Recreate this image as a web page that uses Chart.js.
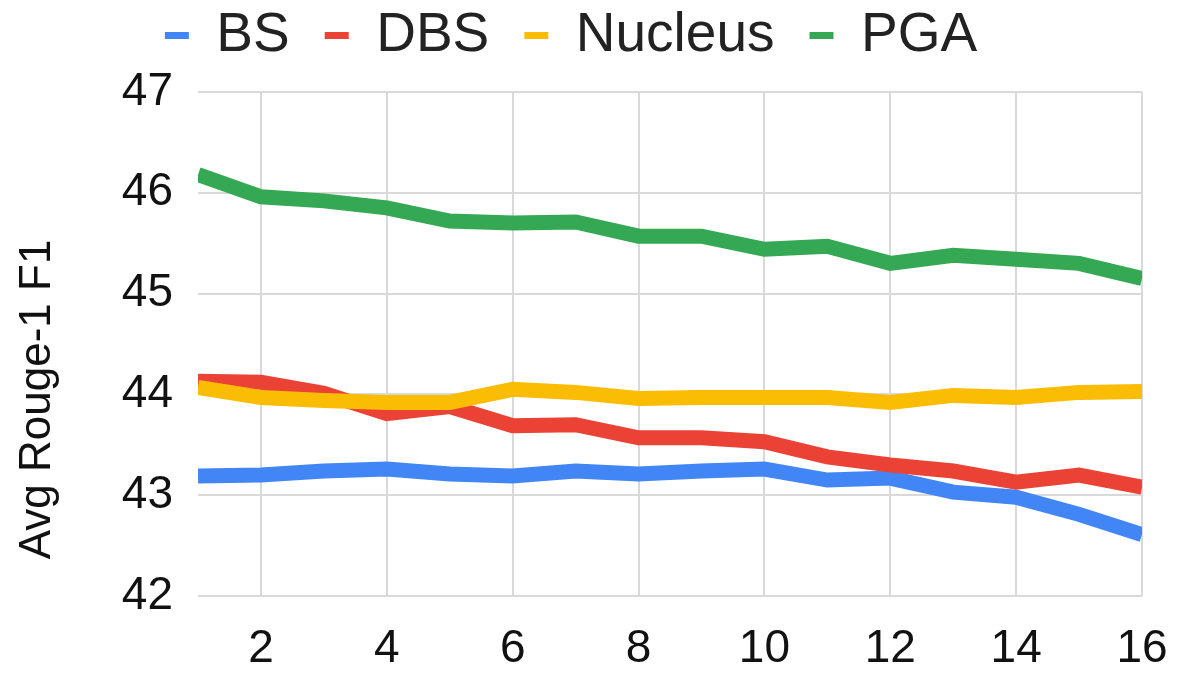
<!DOCTYPE html>
<html>
<head>
<meta charset="utf-8">
<title>Avg Rouge-1 F1</title>
<script src="https://cdn.jsdelivr.net/npm/chart.js@4"></script>
<style>
    html, body { margin: 0; padding: 0; background: #fff; }
    .frame { width: 1186px; height: 675px; position: relative; }
</style>
</head>
<body>
<div class="frame"><canvas id="chart"></canvas></div>
<script>
    const runs = [1, 2, 3, 4, 5, 6, 7, 8, 9, 10, 11, 12, 13, 14, 15, 16];
    const bs = [43.19, 43.20, 43.24, 43.26, 43.21, 43.19, 43.24, 43.21, 43.24, 43.26, 43.15, 43.17, 43.03, 42.98, 42.81, 42.61];
    const dbs = [44.13, 44.12, 44.01, 43.81, 43.88, 43.69, 43.70, 43.57, 43.57, 43.53, 43.38, 43.30, 43.24, 43.13, 43.20, 43.08];
    const nucleus = [44.07, 43.97, 43.94, 43.92, 43.92, 44.05, 44.02, 43.96, 43.97, 43.97, 43.97, 43.92, 43.99, 43.97, 44.02, 44.03];
    const pga = [46.18, 45.96, 45.92, 45.85, 45.72, 45.70, 45.71, 45.57, 45.57, 45.44, 45.47, 45.30, 45.38, 45.34, 45.30, 45.15];

    const seriesNames = ["BS", "DBS", "Nucleus", "PGA"];
    const seriesValues = [bs, dbs, nucleus, pga];
    const palette = ["#4285f4", "#ea4335", "#fbbc04", "#34a853"];
    const yTitle = "Avg Rouge-1 F1";
    const fontFamily = '"Liberation Sans", Arial, sans-serif';

    const datasets = seriesNames.map((name, index) => ({
        label: name,
        data: seriesValues[index].map((value, i) => ({ x: runs[i], y: value })),
        borderColor: palette[index],
        backgroundColor: palette[index],
        borderWidth: 15,
        pointRadius: 0,
        tension: 0,
        clip: 0,
        // later series sit on top, like the original sheet
        order: seriesNames.length - index
    }));

    // the sheet puts the y title a bit below the middle of the axis, so draw it by hand
    const sideTitle = {
        id: "sideTitle",
        afterDraw(chart) {
            const { ctx, chartArea } = chart;
            ctx.save();
            ctx.translate(38, chartArea.top + (chartArea.bottom - chartArea.top) * 0.61);
            ctx.rotate(-Math.PI / 2);
            ctx.font = `44px ${fontFamily}`;
            ctx.fillStyle = "#111";
            ctx.textAlign = "center";
            ctx.textBaseline = "middle";
            ctx.fillText(yTitle, 0, 0);
            ctx.restore();
        }
    };

    new Chart(document.getElementById("chart"), {
        type: "line",
        data: { datasets },
        plugins: [sideTitle],
        options: {
            responsive: true,
            maintainAspectRatio: false,
            animation: false,
            layout: { padding: { top: -27, right: 44, left: 0, bottom: 0 } },
            plugins: {
                tooltip: { enabled: false },
                legend: {
                    position: "top",
                    labels: {
                        color: "#222",
                        font: { family: fontFamily, size: 55 },
                        boxWidth: 24,
                        boxHeight: 7,
                        padding: 35,
                        sort: (a, b) => a.datasetIndex - b.datasetIndex,
                        generateLabels: chart => Chart.defaults.plugins.legend.labels.generateLabels(chart)
                            .map(item => ({ ...item, lineWidth: 0 }))
                    }
                },
                // empty spacer between the legend and the plot
                subtitle: {
                    display: true,
                    text: "",
                    weight: 500,
                    padding: 0,
                    font: { size: 19, lineHeight: 1 }
                }
            },
            scales: {
                x: {
                    type: "linear",
                    min: 1,
                    max: 16,
                    border: { display: false },
                    grid: { color: "#d9d9d9", lineWidth: 2, drawTicks: false },
                    ticks: {
                        stepSize: 2,
                        includeBounds: false,
                        maxRotation: 0,
                        padding: 26,
                        color: "#111",
                        font: { family: fontFamily, size: 46 }
                    },
                    afterFit: scale => {
                        scale.height = 79;
                        scale.paddingRight = 0;
                    }
                },
                y: {
                    min: 42,
                    max: 47,
                    border: { display: false },
                    grid: { color: "#d9d9d9", lineWidth: 2, drawTicks: false },
                    ticks: {
                        stepSize: 1,
                        padding: 25,
                        color: "#111",
                        font: { family: fontFamily, size: 46, lineHeight: 1 }
                    },
                    afterFit: scale => { scale.width = 198; }
                }
            }
        }
    });
</script>
</body>
</html>
